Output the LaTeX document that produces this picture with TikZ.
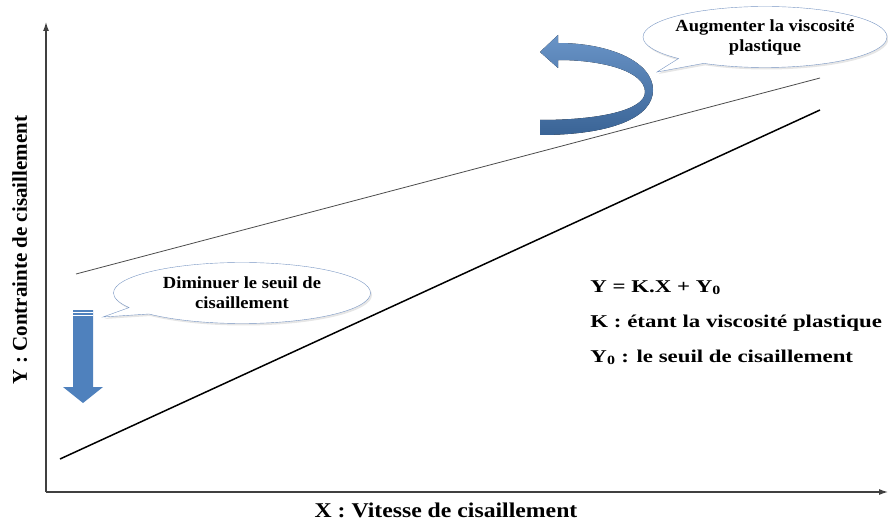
\documentclass[tikz,border=0pt]{standalone}
\usepackage{fontspec}
\setmainfont{Liberation Serif}
\usetikzlibrary{shapes.callouts,shadows,arrows.meta}
\definecolor{arrowblue}{RGB}{79,129,189}
\definecolor{arrowdark}{RGB}{58,100,150}
\definecolor{bubbleline}{RGB}{120,150,195}

\begin{document}
\begin{tikzpicture}[x=1pt, y=-1pt,
    bubble/.style={ellipse callout, draw=bubbleline, thin, fill=white, align=center,
      font=\fontsize{17}{20}\selectfont\bfseries, inner xsep=-4pt, inner ysep=2pt,
      minimum width=244pt, minimum height=61pt,
      drop shadow={opacity=0.2, shadow xshift=1.5pt, shadow yshift=-2pt}},
    bubbletext/.style={align=center, xscale=1.09, font=\fontsize{17}{20}\selectfont\bfseries},
    eqtext/.style={anchor=base west, xscale=1.27, font=\fontsize{18}{20}\selectfont\bfseries},
    axislabel/.style={anchor=base, font=\fontsize{21}{24}\selectfont\bfseries}]
    \useasboundingbox (0,0) rectangle (888,521);
    % axes
    \coordinate (O) at (46,492);
    \coordinate (ytop) at (46,22);
    \coordinate (xend) at (888,492);
    \draw[black!75, line width=1.2pt, -{Latex[length=9pt,width=6pt]}] (O) -- (ytop);
    \draw[black!75, line width=1.2pt, -{Latex[length=9pt,width=6pt]}] (O) -- (xend);
    \node[axislabel, xscale=1.13] (xlabel) at (446,517) {X : Vitesse de cisaillement};
    \node[axislabel, rotate=90] (ylabel) at (27,250) {Y : Contrainte de cisaillement};
    %
    \coordinate (thinstart) at (76,274);
    \coordinate (thinend) at (820,78);
    \coordinate (thickstart) at (60,459);
    \coordinate (thickend) at (820,110);
    \draw[black!70, line width=0.8pt] (thinstart) -- (thinend);
    \draw[black, line width=1.5pt] (thickstart) -- (thickend);
    %
    \fill[top color=arrowblue!85!white, bottom color=arrowdark]
        (540,52) -- (558,35) -- (558,43)
        .. controls (610,43) and (653,62) .. (653,90)
        .. controls (653,118) and (610,135) .. (540,135)
        -- (540,120)
        .. controls (600,120) and (645,110) .. (645,92)
        .. controls (645,72) and (605,60) .. (558,60)
        -- (558,68) -- cycle;
    \fill[arrowblue] (73,310) -- (93,310) -- (93,387) -- (103,387) -- (83,403)
        -- (63,387) -- (73,387) -- cycle;
    \draw[white, line width=0.6pt] (73,312.5) -- (93,312.5);
    \draw[white, line width=0.6pt] (73,315.5) -- (93,315.5);
    %
    \node[bubble, callout absolute pointer={(657,72)}] (viscbubble) at (765,37) {};
    \node[bubbletext] (visctext) at (viscbubble.center) {Augmenter la viscosité\\plastique};
    \node[bubble, minimum width=257pt, callout absolute pointer={(103,317)}] (seuilbubble)
        at (242,293) {};
    \node[bubbletext] (seuiltext) at (seuilbubble.center) {Diminuer le seuil de\\cisaillement};
    %
    \node[eqtext] (eqline) at (586,292) {Y = K.X + Y\textsubscript{0}};
    \node[eqtext] (kline) at (586,327) {K : étant la viscosité plastique};
    \node[eqtext] (yzeroline) at (586,362) {Y\textsubscript{0} : le seuil de cisaillement};
\end{tikzpicture}
\end{document}
